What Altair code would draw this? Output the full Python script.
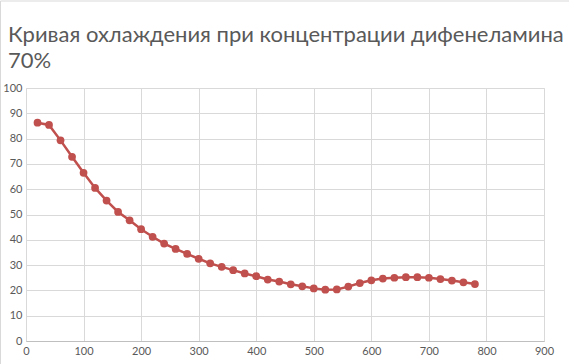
import altair as alt
import pandas as pd

time_s = [20, 40, 60, 80, 100, 120, 140, 160, 180, 200, 220, 240, 260, 280, 300,
          320, 340, 360, 380, 400, 420, 440, 460, 480, 500, 520, 540, 560, 580, 600,
          620, 640, 660, 680, 700, 720, 740, 760, 780]
temp_c = [86.3, 85.4, 79.3, 72.8, 66.5, 60.5, 55.5, 51.0, 47.7, 44.2, 41.2, 38.5, 36.4, 34.4, 32.5,
          30.7, 29.3, 28.0, 26.7, 25.6, 24.3, 23.5, 22.4, 21.6, 20.8, 20.3, 20.4, 21.5, 22.9, 24.0,
          24.7, 25.0, 25.2, 25.2, 25.0, 24.5, 23.9, 23.2, 22.5]

title_lines = ["Кривая охлаждения при концентрации дифенеламина", "70%"]
x_ticks = [0, 100, 200, 300, 400, 500, 600, 700, 800, 900]
y_ticks = [0, 10, 20, 30, 40, 50, 60, 70, 80, 90, 100]

df = pd.DataFrame({"t": time_s, "T": temp_c})

FONT = "Lato"
GRAY = "#595959"
RED = "#C0504D"

x_enc = alt.X("t:Q", scale=alt.Scale(domain=[0, 900], nice=False),
              axis=alt.Axis(values=x_ticks, title=None, grid=True, gridColor="#D9D9D9",
                            ticks=False, domainColor="#BFBFBF", labelColor=GRAY,
                            labelFont=FONT, labelFontSize=11, labelPadding=4,
                            labelFlush=False, labelOverlap=False))
y_enc = alt.Y("T:Q", scale=alt.Scale(domain=[0, 100], nice=False),
              axis=alt.Axis(values=y_ticks, title=None, grid=True, gridColor="#D9D9D9",
                            ticks=False, domain=False, labelColor=GRAY,
                            labelFont=FONT, labelFontSize=11, labelPadding=4,
                            labelOverlap=False, tickCount=11))

base = alt.Chart(df)

line = base.mark_line(color=RED, strokeWidth=2.5).encode(x=x_enc, y=y_enc)
points = base.mark_point(filled=True, shape="circle", size=60, color=RED, opacity=1).encode(
    x=x_enc, y=y_enc
)

border = alt.Chart(pd.DataFrame({"a": [0]})).mark_rect(
    fill=None, stroke="#D9D9D9", strokeWidth=1
).encode(
    x=alt.value(-25.5), x2=alt.value(560), y=alt.value(-87), y2=alt.value(290)
)

chart = alt.layer(border, line, points).properties(
    width=518, height=253,
    title=alt.TitleParams(text=title_lines, anchor="start", frame="group",
                          font=FONT, fontSize=22, fontWeight="normal",
                          color=GRAY, dx=-18, offset=-72, lineHeight=26),
    autosize=alt.AutoSizeParams(type="none"),
    padding={"left": 26, "top": 88, "right": 25, "bottom": 23},
).configure_view(stroke=None).configure(background="white")

chart.save("out.html", embed_options={"renderer": "svg", "actions": False})
